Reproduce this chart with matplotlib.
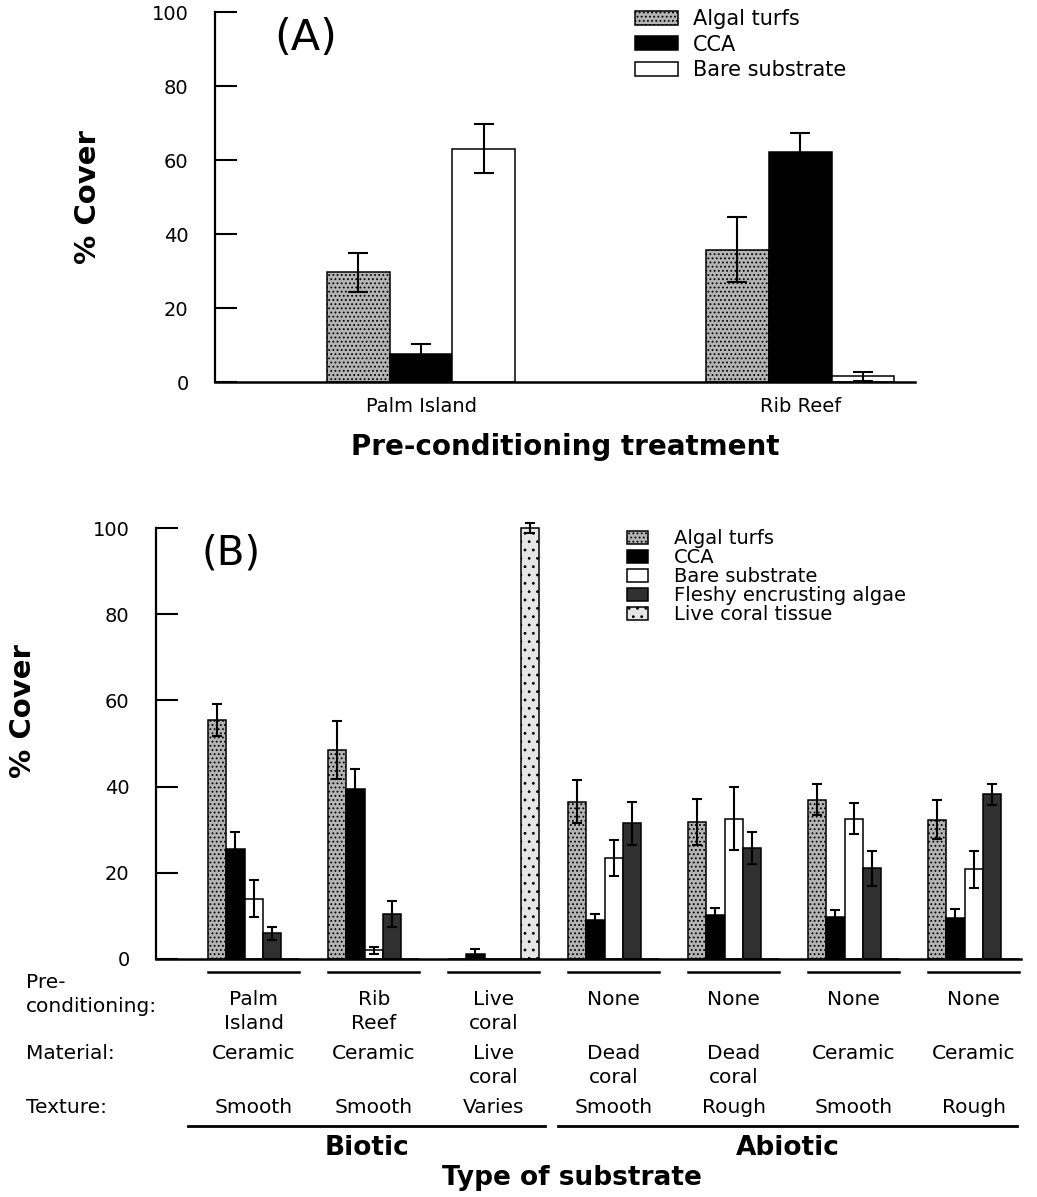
import numpy as np
import matplotlib
matplotlib.use("Agg")
import matplotlib.pyplot as plt
from matplotlib.transforms import blended_transform_factory

plt.rcParams['font.family'] = ['DejaVu Sans']
plt.rcParams['hatch.linewidth'] = 0.8

# ---------------- Data: panel A ----------------
groups_a = ['Palm Island', 'Rib Reef']
a_algal = [29.6, 35.8]
a_algal_err = [5.3, 8.8]
a_cca = [7.7, 62.1]
a_cca_err = [2.5, 5.3]
a_bare = [63.1, 1.5]
a_bare_err = [6.7, 1.1]

# ---------------- Data: panel B ----------------
b_precond = ['Palm\nIsland', 'Rib\nReef', 'Live\ncoral', 'None', 'None', 'None', 'None']
b_material = ['Ceramic', 'Ceramic', 'Live\ncoral', 'Dead\ncoral', 'Dead\ncoral', 'Ceramic', 'Ceramic']
b_texture = ['Smooth', 'Smooth', 'Varies', 'Smooth', 'Rough', 'Smooth', 'Rough']
b_algal = [55.5, 48.5, 0, 36.5, 31.8, 37.0, 32.3]
b_algal_err = [3.7, 6.8, 0, 5.0, 5.4, 3.5, 4.5]
b_cca = [25.5, 39.5, 1.2, 9.0, 10.2, 9.8, 9.5]
b_cca_err = [4.0, 4.5, 1.2, 1.4, 1.7, 1.6, 2.0]
b_bare = [14.0, 2.0, 0, 23.5, 32.5, 32.5, 20.8]
b_bare_err = [4.3, 0.8, 0, 4.2, 7.3, 3.6, 4.3]
b_fleshy = [6.0, 10.5, 0, 31.5, 25.8, 21.0, 38.2]
b_fleshy_err = [1.5, 3.0, 0, 5.0, 3.7, 4.1, 2.5]
b_live = [0, 0, 100, 0, 0, 0, 0]
b_live_err = [0, 0, 1.2, 0, 0, 0, 0]
b_types = ['Biotic', 'Abiotic']

yticks = [0, 20, 40, 60, 80, 100]

W, H = 1037, 1197
fig = plt.figure(figsize=(W / 100, H / 100), dpi=100)

def fx(px):
    return px / W

def fy(py):
    return 1 - py / H

styles = {
    'Algal turfs': dict(facecolor='#b4b4b4', hatch='....'),
    'CCA': dict(facecolor='black'),
    'Bare substrate': dict(facecolor='white'),
    'Fleshy encrusting algae': dict(facecolor='#303030'),
    'Live coral tissue': dict(facecolor='#e6e6e6', hatch='..'),
}

def style_axis(ax):
    ax.spines['top'].set_visible(False)
    ax.spines['right'].set_visible(False)
    ax.spines['left'].set_linewidth(1.6)
    ax.spines['bottom'].set_linewidth(1.8)
    ax.set_yticks(yticks)
    ax.set_xticks([])
    ax.tick_params(axis='y', direction='in', length=16, width=1.5, pad=19, labelsize=14)
    ax.set_ylim(0, 100)

def draw_bars(ax, x, vals, errs, label, w, capsize):
    x = np.asarray(x, dtype=float)
    vals = np.asarray(vals, dtype=float)
    errs = np.asarray(errs, dtype=float)
    bars = ax.bar(x, vals, width=w, align='edge', edgecolor='black', linewidth=1.1,
                  label=label, zorder=2, clip_on=False, **styles[label])
    m = errs > 0
    eb = ax.errorbar(x[m] + w / 2, vals[m], yerr=errs[m], fmt='none', ecolor='black',
                     elinewidth=1.5, capsize=capsize, capthick=1.5, zorder=3)
    for art in eb.get_children():
        art.set_clip_on(False)
    return bars

# ---------------- Panel A ----------------
axA = fig.add_axes([fx(215), fy(382), fx(915 - 215), (382 - 12) / H])
style_axis(axA)
wA = 0.1654
gA = np.arange(len(groups_a))
hA = []
for k, (lab, v, e) in enumerate([('Algal turfs', a_algal, a_algal_err),
                                  ('CCA', a_cca, a_cca_err),
                                  ('Bare substrate', a_bare, a_bare_err)]):
    hA.append(draw_bars(axA, gA + k * wA, v, e, lab, wA, 7))
axA.set_xlim(-0.2955, 1.551)
axA.set_xticks(gA + 1.5 * wA)
axA.set_xticklabels(groups_a, fontsize=14)
axA.tick_params(axis='x', length=0, pad=11)
axA.set_xlabel('Pre-conditioning treatment', fontsize=20, fontweight='bold', labelpad=12)
axA.set_ylabel('% Cover', fontsize=21, fontweight='bold', labelpad=36)
axA.text(0.13, 0.93, '(A)', transform=axA.transAxes, fontsize=31, ha='center', va='center')
fig.legend(handles=hA, loc='upper left', bbox_to_anchor=(fx(635), fy(9)), frameon=False,
           fontsize=15, handlelength=2.07, handleheight=0.67, handletextpad=0.72,
           labelspacing=0.27, borderpad=0, borderaxespad=0)

# ---------------- Panel B ----------------
axB = fig.add_axes([fx(156), fy(959), fx(1021 - 156), (959 - 528) / H])
style_axis(axB)
wB = 0.1525
gB = np.arange(len(b_texture))
hB = []
for k, (lab, v, e) in enumerate([('Algal turfs', b_algal, b_algal_err),
                                  ('CCA', b_cca, b_cca_err),
                                  ('Bare substrate', b_bare, b_bare_err),
                                  ('Fleshy encrusting algae', b_fleshy, b_fleshy_err),
                                  ('Live coral tissue', b_live, b_live_err)]):
    hB.append(draw_bars(axB, gB + k * wB, v, e, lab, wB, 3.5))
axB.set_xlim(-0.433, 6.775)
axB.set_ylabel('% Cover', fontsize=21, fontweight='bold')
axB.yaxis.set_label_coords(-0.138, 0.575)
axB.text(0.087, 0.94, '(B)', transform=axB.transAxes, fontsize=29, ha='center', va='center')
fig.legend(handles=hB, loc='upper left', bbox_to_anchor=(fx(627), fy(529)), frameon=False,
           fontsize=14, handlelength=1.1, handleheight=0.68, handletextpad=1.3,
           labelspacing=0.0, borderpad=0, borderaxespad=0)

# table under panel B
tr = blended_transform_factory(axB.transData, fig.transFigure)
centers = gB + 2.5 * wB
for i, c in enumerate(centers):
    axB.plot([gB[i], gB[i] + 5 * wB], [fy(972), fy(972)], transform=tr, color='black',
             lw=1.8, clip_on=False)
    axB.text(c, fy(990), b_precond[i], transform=tr, ha='center', va='top', fontsize=14.5,
             linespacing=1.36)
    axB.text(c, fy(1044), b_material[i], transform=tr, ha='center', va='top', fontsize=14.5,
             linespacing=1.36)
    axB.text(c, fy(1098), b_texture[i], transform=tr, ha='center', va='top', fontsize=14.5)

fig.text(fx(26), fy(973), 'Pre-\nconditioning:', ha='left', va='top', fontsize=14.5, linespacing=1.36)
fig.text(fx(26), fy(1044), 'Material:', ha='left', va='top', fontsize=14.5)
fig.text(fx(26), fy(1098), 'Texture:', ha='left', va='top', fontsize=14.5)

# Biotic / Abiotic brackets
spans = [(-0.166, 2.81), (2.92, 6.74)]
for (x0, x1), name in zip(spans, b_types):
    axB.plot([x0, x1], [fy(1126), fy(1126)], transform=tr, color='black', lw=2, clip_on=False)
    axB.text((x0 + x1) / 2, fy(1148), name, transform=tr, ha='center', va='center',
             fontsize=19, fontweight='bold')
fig.text(fx(572), fy(1178), 'Type of substrate', ha='center', va='center', fontsize=19,
         fontweight='bold')

fig.savefig('out.png', dpi=100)
